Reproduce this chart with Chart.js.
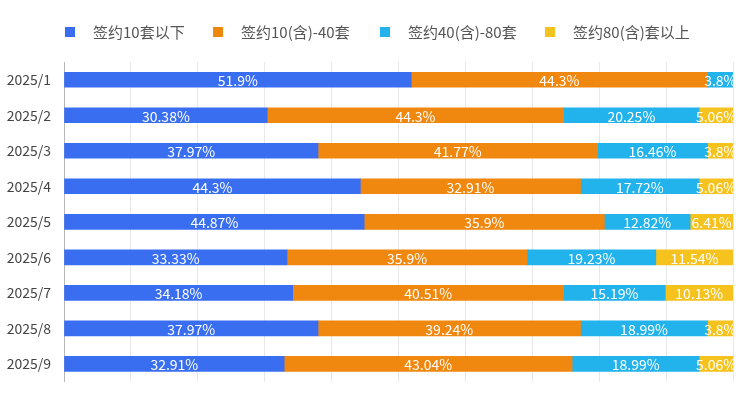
<!DOCTYPE html>
<html>
<head>
<meta charset="utf-8">
<script src="https://cdn.jsdelivr.net/npm/chart.js@4"></script>
<style>
  html, body { margin: 0; padding: 0; background: #fff; }
  #wrap { position: relative; width: 750px; height: 395px; }
  #leyenda { position: absolute; left: 0; top: 0; width: 750px; height: 60px; }
  .item { position: absolute; top: 22px; height: 20px; font: 15px "Noto Sans CJK SC", "Noto Sans", sans-serif; color: #555; line-height: 20px; white-space: nowrap; }
  .item span.box { position: absolute; left: 0; top: 5px; width: 10px; height: 10px; }
  .item span.txt { position: absolute; left: 28px; top: 0; }
</style>
</head>
<body>
<div id="wrap">
  <canvas id="signChart"></canvas>
  <div id="leyenda"></div>
</div>
<script>
const months = ['2025/1', '2025/2', '2025/3', '2025/4', '2025/5', '2025/6', '2025/7', '2025/8', '2025/9'];
const seriesNames = ['签约10套以下', '签约10(含)-40套', '签约40(含)-80套', '签约80(含)套以上'];
const under10 = [51.9, 30.38, 37.97, 44.3, 44.87, 33.33, 34.18, 37.97, 32.91];
const from10to40 = [44.3, 44.3, 41.77, 32.91, 35.9, 35.9, 40.51, 39.24, 43.04];
const from40to80 = [3.8, 20.25, 16.46, 17.72, 12.82, 19.23, 15.19, 18.99, 18.99];
const over80 = [0, 5.06, 3.8, 5.06, 6.41, 11.54, 10.13, 3.8, 5.06];
const colors = ['#3a6ef0', '#f0870f', '#22b2ec', '#f5c21e'];
const legendLeft = [65, 213, 380, 545];

const fontFam = '"Noto Sans CJK SC", "Noto Sans", sans-serif';

// leyenda en HTML
const leg = document.getElementById('leyenda');
seriesNames.forEach((name, i) => {
  const it = document.createElement('div');
  it.className = 'item';
  it.style.left = legendLeft[i] + 'px';
  it.innerHTML = '<span class="box" style="background:' + colors[i] + '"></span><span class="txt">' + name + '</span>';
  leg.appendChild(it);
});

// texto blanco centrado en cada segmento, recortado al area del grafico
const segLabels = {
  id: 'segLabels',
  afterDatasetsDraw(chart) {
    const ctx = chart.ctx;
    const area = chart.chartArea;
    ctx.save();
    ctx.beginPath();
    ctx.rect(area.left, area.top, area.right - area.left, area.bottom - area.top);
    ctx.clip();
    ctx.font = '14px ' + fontFam;
    ctx.fillStyle = '#ffffff';
    ctx.textAlign = 'center';
    ctx.textBaseline = 'middle';
    chart.data.datasets.forEach((ds, i) => {
      const meta = chart.getDatasetMeta(i);
      meta.data.forEach((bar, j) => {
        const v = ds.data[j];
        if (!v) return;
        const x = (bar.x + bar.base) / 2;
        ctx.fillText(v + '%', x, bar.y + 1);
      });
    });
    ctx.restore();
  }
};

const ctx = document.getElementById('signChart').getContext('2d');
const chart = new Chart(ctx, {
  type: 'bar',
  data: {
    labels: months,
    datasets: [under10, from10to40, from40to80, over80].map((d, i) => ({
      label: seriesNames[i],
      data: d,
      backgroundColor: colors[i],
      borderWidth: 0,
      barThickness: 15
    }))
  },
  options: {
    indexAxis: 'y',
    responsive: true,
    maintainAspectRatio: false,
    animation: false,
    layout: { padding: { left: 7, right: 17, top: 62, bottom: 5 } },
    plugins: {
      legend: { display: false },
      tooltip: { enabled: false }
    },
    scales: {
      x: {
        stacked: true,
        min: 0,
        max: 100,
        ticks: { display: false, stepSize: 10 },
        grid: { color: '#e8e8e8', drawTicks: false },
        border: { display: false },
        afterFit(scale) { scale.height = 0; }
      },
      y: {
        stacked: true,
        ticks: { color: '#444', font: { family: fontFam, size: 14 }, padding: 5 },
        grid: { display: false },
        border: { color: '#b8b8b8' },
        afterFit(scale) { scale.width = 57; }
      }
    }
  },
  plugins: [segLabels]
});
</script>
</body>
</html>
